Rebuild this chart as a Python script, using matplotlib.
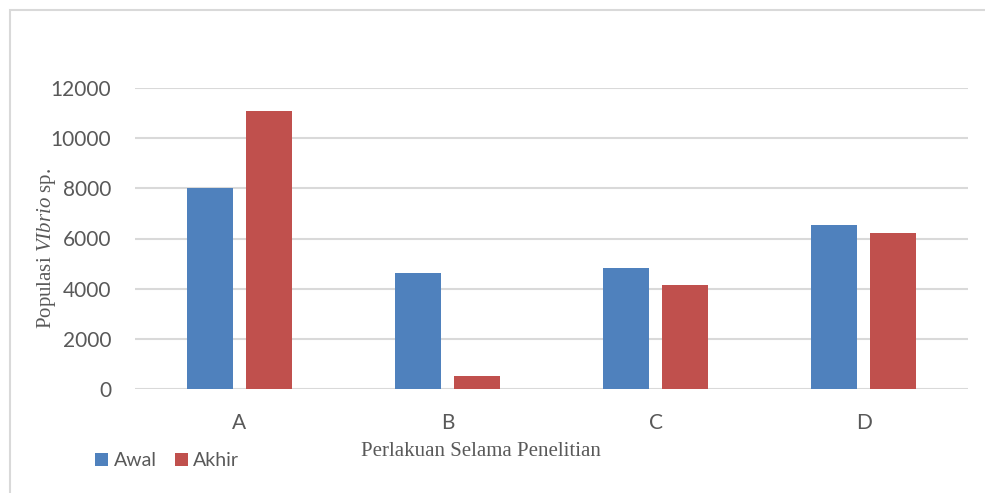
import matplotlib
matplotlib.use("Agg")
import matplotlib.pyplot as plt
import numpy as np
from matplotlib.patches import Rectangle

# Data
categories = ["A", "B", "C", "D"]
awal = [8000, 4640, 4830, 6530]
akhir = [11100, 520, 4130, 6230]
yticks = [0, 2000, 4000, 6000, 8000, 10000, 12000]

blue = "#4F81BD"
red = "#C0504D"
grid_c = "#D9D9D9"
text_c = "#595959"

plt.rcParams["mathtext.fontset"] = "custom"
plt.rcParams["mathtext.rm"] = "Liberation Serif"
plt.rcParams["mathtext.it"] = "Liberation Serif:italic"

fig = plt.figure(figsize=(9.85, 4.93), dpi=100)
ax = fig.add_axes([135 / 985, 1 - 389 / 493, (968 - 135) / 985, (389 - 88) / 493])

x = np.arange(len(categories))
w = 0.221
off = 0.142
ax.bar(x - off, awal, width=w, color=blue, label="Awal", zorder=3)
ax.bar(x + off, akhir, width=w, color=red, label="Akhir", zorder=3)

ax.set_xlim(-0.5, len(categories) - 0.5)
ax.set_ylim(0, 12000)
ax.set_yticks(yticks)
ax.set_yticklabels([str(v) for v in yticks])
ax.set_xticks(x)
ax.set_xticklabels(categories)
ax.yaxis.grid(True, color=grid_c, linewidth=1.5, zorder=0)
ax.set_axisbelow(True)
for s in ax.spines.values():
    s.set_visible(False)
ax.tick_params(axis="both", length=0, labelcolor=text_c, labelsize=15)
ax.tick_params(axis="y", pad=17)
ax.tick_params(axis="x", pad=17)
for lab in ax.get_xticklabels() + ax.get_yticklabels():
    lab.set_family("Lato")

# Axis titles
fig.text(481 / 985, 1 - 452 / 493, "Perlakuan Selama Penelitian",
         family="Liberation Serif", fontsize=15, color=text_c,
         ha="center", va="center")
fig.text(47 / 985, 1 - 248 / 493, r"Populasi $\mathit{VIbrio}$ sp.",
         family="Liberation Serif", fontsize=15, color=text_c,
         rotation=90, ha="center", va="center")

# Legend
leg = ax.legend(loc="center left", bbox_to_anchor=(95 / 985, 1 - 461 / 493),
                bbox_transform=fig.transFigure, frameon=False, ncol=2,
                handlelength=0.65, handleheight=0.65, handletextpad=0.3,
                columnspacing=0.95, borderpad=0, borderaxespad=0,
                prop={"family": "Lato", "size": 14})
for t in leg.get_texts():
    t.set_color(text_c)

# Chart area border
fig.patches.append(Rectangle((9.5 / 985, -0.1), 1.2, 1 - 10 / 493 + 0.1,
                             transform=fig.transFigure, fill=False,
                             edgecolor=grid_c, linewidth=1.5))

fig.savefig("out.png", dpi=100)
